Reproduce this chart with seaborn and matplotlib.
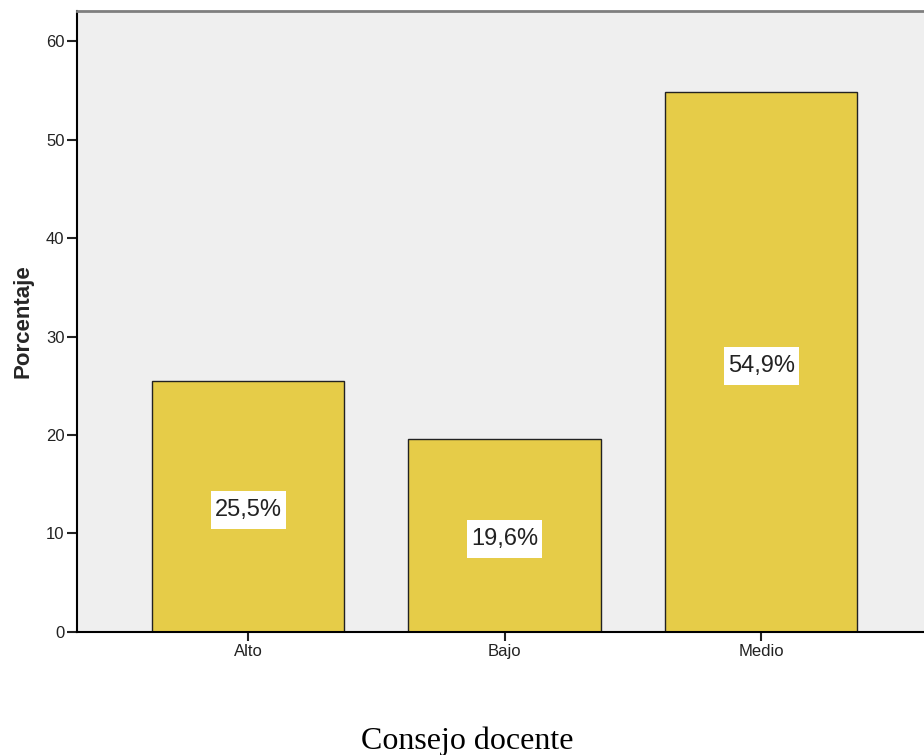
import matplotlib
matplotlib.use("Agg")
import matplotlib.pyplot as plt
import seaborn as sns
import pandas as pd

# --- datos ---
categorias = ["Alto", "Bajo", "Medio"]
porcentajes = [25.5, 19.6, 54.9]
etiquetas = ["25,5%", "19,6%", "54,9%"]
yticks = [0, 10, 20, 30, 40, 50, 60]

df = pd.DataFrame({"nivel": categorias, "pct": porcentajes})

sns.set_style("white")
plt.rcParams["font.family"] = ["Liberation Sans", "DejaVu Sans"]

fig = plt.figure(figsize=(9.24, 7.55), dpi=100)
ax = fig.add_axes([77 / 924, 123.4 / 755, 847 / 924, 620.6 / 755])
ax.set_facecolor("#efefef")

sns.barplot(data=df, x="nivel", y="pct", color="#e6cc48", saturation=1,
            width=0.75, edgecolor="#222222", linewidth=1, ax=ax)

# etiquetas de valor en cajas blancas
for i, (v, t) in enumerate(zip(porcentajes, etiquetas)):
    ax.annotate(t, (i, v / 2), xytext=(0, -3), textcoords="offset points",
                ha="center", va="center", fontsize=17, color="#222222",
                bbox=dict(boxstyle="square,pad=0.17", fc="white", ec="none",
                          mutation_aspect=2.0))

ax.set_xlim(-0.667, 2.635)
ax.set_ylim(0, 63.1)
ax.set_yticks(yticks)

for s in ["left", "bottom"]:
    ax.spines[s].set_color("black")
    ax.spines[s].set_linewidth(1.5)
ax.spines["top"].set_color("#7f7f7f")
ax.spines["top"].set_linewidth(2)
ax.spines["right"].set_visible(False)

ax.tick_params(axis="y", left=True, length=7, width=1.5, direction="out",
               labelsize=12, pad=2, colors="#222222")
ax.tick_params(axis="x", bottom=True, length=6.5, width=1.5, direction="out",
               labelsize=12, pad=2.5, colors="#222222")

ax.set_xlabel("")
ax.set_ylabel("Porcentaje", fontsize=16, fontweight="bold")
ax.yaxis.set_label_coords(-0.051, 0.5)

fig.text(467 / 924, 6 / 755, "Consejo docente", ha="center", va="baseline",
         fontsize=23, family=["Liberation Serif"], color="black")

fig.savefig("out.png", dpi=100)
